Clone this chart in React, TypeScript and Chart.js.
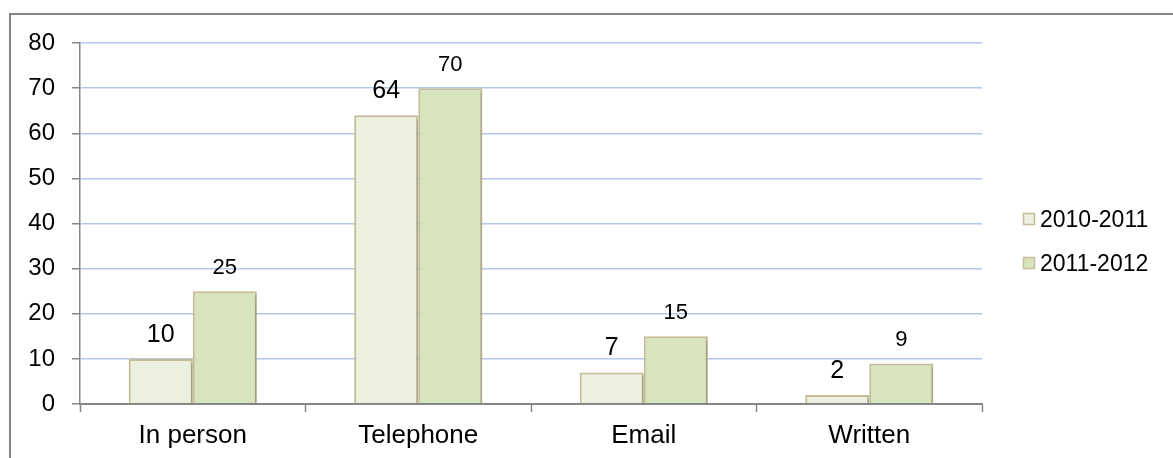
import { useEffect, useRef } from "react";
import { Chart, registerables } from "chart.js";

Chart.register(...registerables);

const categories = ["In person", "Telephone", "Email", "Written"];
const seriesNames = ["2010-2011", "2011-2012"];
const values2010 = [10, 64, 7, 2];
const values2011 = [25, 70, 15, 9];
const yMin = 0;
const yMax = 80;
const yStep = 10;

const FONT = '"Liberation Sans", Arial, sans-serif';
const fills = ["#EBF1DE", "#D7E4BD"];
const borderCol = "#C4BD97";
const labelSizes = [25, 22];

const shadowAndLabels = {
  id: "shadowAndLabels",
  beforeDatasetsDraw(chart: any) {
    const ctx = chart.ctx;
    ctx.save();
    ctx.shadowColor = "rgba(0,0,0,0.22)";
    ctx.shadowOffsetX = 2;
    ctx.shadowOffsetY = 2;
    ctx.shadowBlur = 3;
  },
  afterDatasetsDraw(chart: any) {
    const ctx = chart.ctx;
    ctx.restore();
    chart.data.datasets.forEach((ds: any, i: number) => {
      const meta = chart.getDatasetMeta(i);
      meta.data.forEach((el: any, j: number) => {
        ctx.save();
        ctx.font = `${labelSizes[i]}px ${FONT}`;
        ctx.fillStyle = "#000";
        ctx.textAlign = "center";
        ctx.textBaseline = "alphabetic";
        ctx.fillText(String(ds.data[j]), el.x, el.y - 17);
        ctx.restore();
      });
    });
  },
};

const sideLegend = {
  id: "sideLegend",
  afterDraw(chart: any) {
    const ctx = chart.ctx;
    const { right, top } = chart.chartArea;
    chart.data.datasets.forEach((ds: any, i: number) => {
      const bx = right + 41.5;
      const by = top + 170.5 + 44 * i;
      ctx.save();
      ctx.fillStyle = ds.backgroundColor;
      ctx.fillRect(bx, by, 11, 11);
      ctx.strokeStyle = ds.borderColor;
      ctx.lineWidth = 1.5;
      ctx.strokeRect(bx, by, 11, 11);
      ctx.font = `23px ${FONT}`;
      ctx.fillStyle = "#000";
      ctx.textAlign = "left";
      ctx.textBaseline = "alphabetic";
      ctx.fillText(ds.label, right + 58, top + 184 + 44 * i);
      ctx.restore();
    });
  },
};

export default function App() {
  const ref = useRef<HTMLCanvasElement | null>(null);

  useEffect(() => {
    if (!ref.current) return;
    const chart = new Chart(ref.current, {
      type: "bar",
      data: {
        labels: categories,
        datasets: [
          {
            label: seriesNames[0],
            data: values2010,
            backgroundColor: fills[0],
            borderColor: borderCol,
            borderWidth: 2,
          },
          {
            label: seriesNames[1],
            data: values2011,
            backgroundColor: fills[1],
            borderColor: borderCol,
            borderWidth: 2,
          },
        ],
      },
      options: {
        animation: false,
        responsive: false,
        devicePixelRatio: 1,
        layout: { padding: { left: 0, top: 43, right: 191, bottom: 0 } },
        datasets: {
          bar: { categoryPercentage: 0.568, barPercentage: 1.0 },
        },
        plugins: {
          legend: { display: false },
          tooltip: { enabled: false },
        },
        scales: {
          x: {
            afterFit: (s: any) => {
              s.height = 54;
            },
            grid: {
              offset: true,
              drawOnChartArea: false,
              drawTicks: true,
              tickLength: 8,
              tickColor: "#868686",
              tickWidth: 1.5,
            },
            border: { color: "#868686", width: 2 },
            ticks: {
              color: "#000",
              font: { family: FONT, size: 26 },
              padding: 8,
              maxRotation: 0,
            },
          },
          y: {
            min: yMin,
            max: yMax,
            afterFit: (s: any) => {
              s.width = 80;
            },
            grid: {
              color: "#B3C7E8",
              lineWidth: 1.5,
              drawTicks: true,
              tickLength: 8,
              tickColor: "#868686",
              tickWidth: 1.5,
            },
            border: { color: "#868686", width: 1.5 },
            ticks: {
              stepSize: yStep,
              color: "#000",
              font: { family: FONT, size: 24 },
              padding: 17,
            },
          },
        },
      },
      plugins: [shadowAndLabels, sideLegend],
    });
    return () => chart.destroy();
  }, []);

  return (
    <div
      style={{
        position: "fixed",
        left: 0,
        top: 0,
        width: 1173,
        height: 458,
        overflow: "hidden",
        background: "#fff",
      }}
    >
      <div
        style={{
          position: "absolute",
          left: 9,
          top: 13,
          width: 1400,
          height: 700,
          border: "2px solid #868686",
        }}
      />
      <canvas
        ref={ref}
        width={1173}
        height={458}
        style={{ position: "absolute", left: 0, top: 0 }}
      />
    </div>
  );
}
